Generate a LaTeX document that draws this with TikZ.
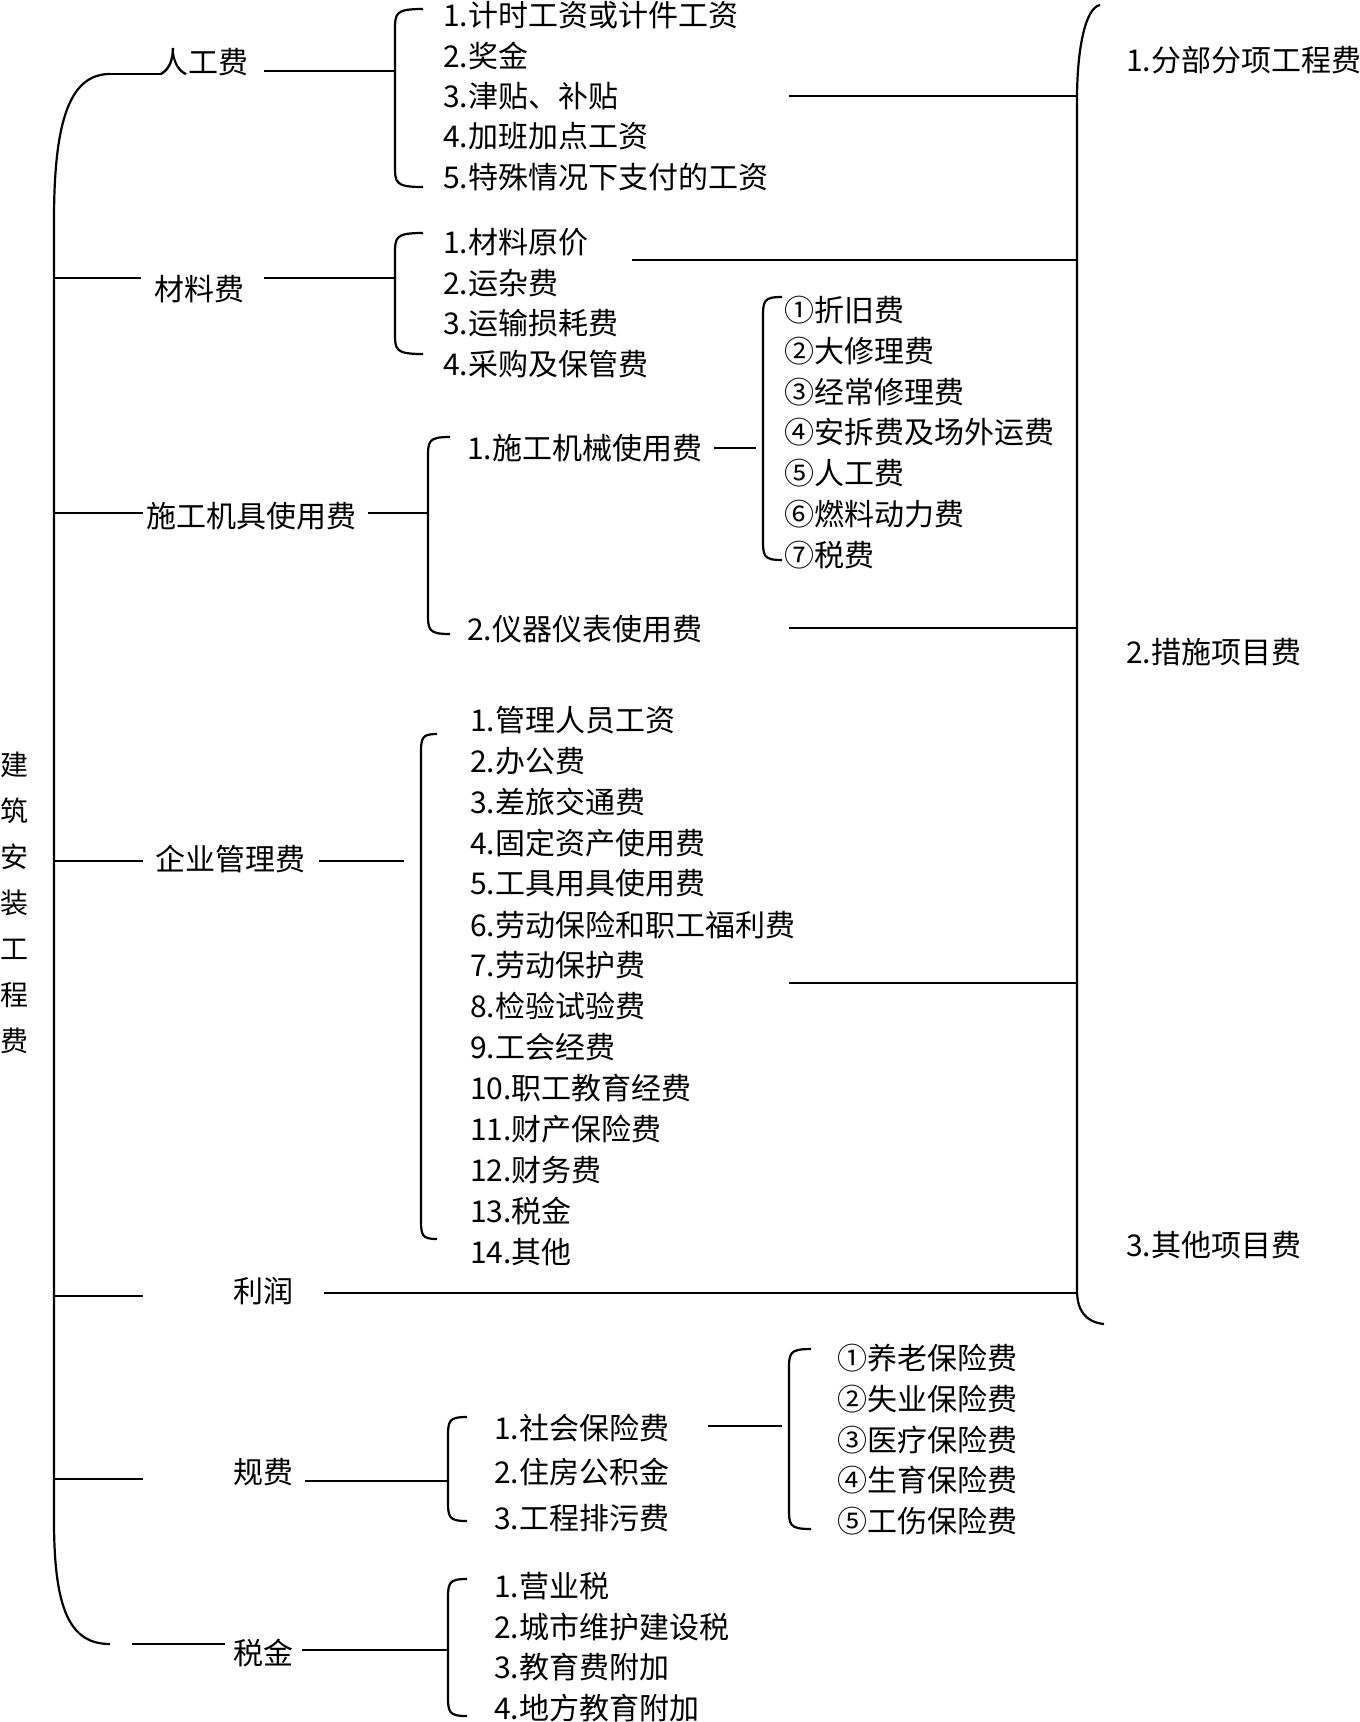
\documentclass[tikz,border=0pt]{standalone}
\usepackage{fontspec}
\newfontfamily\cjk{Noto Sans CJK SC}
\usetikzlibrary{positioning}

\begin{document}
\begin{tikzpicture}[x=1pt,y=-1pt]
	\tikzset{
		item/.style={anchor=west, inner sep=0pt, font=\cjk\fontsize{30}{36}\selectfont},
		cat/.style={inner sep=0pt, font=\cjk\fontsize{30}{36}\selectfont},
		link/.style={line width=2.6pt},
		brak/.style={line width=2.2pt}
	}
	\useasboundingbox (0,0) rectangle (1360,1722);

	% root and first level
	\node[inner sep=0pt, align=center, font=\cjk\fontsize{28}{46}\selectfont] (root) at (15,903) {建\\筑\\安\\装\\工\\程\\费};
	\node[cat] (lab) at (203,62) {人工费};
	\node[cat] (mat) at (199,289) {材料费};
	\node[cat] (mach) at (251,516) {施工机具使用费};
	\node[cat] (mgmt) at (230,859) {企业管理费};
	\node[cat] (profit) at (263,1291) {利润};
	\node[cat] (reg) at (263,1472) {规费};
	\node[cat] (tax) at (263,1653) {税金};

	% second level
	\foreach \t [count=\i] in {1.计时工资或计件工资, 2.奖金, 3.津贴、补贴, 4.加班加点工资, 5.特殊情况下支付的工资}
		\node[item] (lab\i) at (443,{15+40.5*(\i-1)}) {\t};
	\foreach \t [count=\i] in {1.材料原价, 2.运杂费, 3.运输损耗费, 4.采购及保管费}
		\node[item] (mat\i) at (443,{242+40.7*(\i-1)}) {\t};
	\node[item] (mach1) at (467,448) {1.施工机械使用费};
	\node[item] (mach2) at (467,629) {2.仪器仪表使用费};
	\foreach \t [count=\i] in {①折旧费, ②大修理费, ③经常修理费, ④安拆费及场外运费, ⑤人工费, ⑥燃料动力费, ⑦税费}
		\node[item] (dep\i) at (784,{310+40.8*(\i-1)}) {\t};
	\foreach \t [count=\i] in {1.管理人员工资, 2.办公费, 3.差旅交通费, 4.固定资产使用费, 5.工具用具使用费, 6.劳动保险和职工福利费, 7.劳动保护费, 8.检验试验费, 9.工会经费, 10.职工教育经费, 11.财产保险费, 12.财务费, 13.税金, 14.其他}
		\node[item] (mgmt\i) at (470,{720+40.9*(\i-1)}) {\t};
	\node[item] (reg1) at (494,1428) {1.社会保险费};
	\node[item] (reg2) at (494,1472) {2.住房公积金};
	\node[item] (reg3) at (494,1518) {3.工程排污费};
	\foreach \t [count=\i] in {①养老保险费, ②失业保险费, ③医疗保险费, ④生育保险费, ⑤工伤保险费}
		\node[item] (ins\i) at (837,{1358+40.8*(\i-1)}) {\t};
	\foreach \t [count=\i] in {1.营业税, 2.城市维护建设税, 3.教育费附加, 4.地方教育附加}
		\node[item] (tax\i) at (494,{1586+40.7*(\i-1)}) {\t};

	% right column
	\node[item] (sub1) at (1126,60) {1.分部分项工程费};
	\node[item] (sub2) at (1126,652) {2.措施项目费};
	\node[item] (sub3) at (1126,1245) {3.其他项目费};

	% brackets
	\draw[brak] (110,74) .. controls (70,74) and (54,120) .. (54,220) -- (54,1520) .. controls (54,1610) and (70,1644) .. (110,1644);
	\draw[brak] (1100,5) .. controls (1085,8) and (1077,50) .. (1077,100) -- (1077,1290) .. controls (1077,1310) and (1085,1322) .. (1104,1324);
	\foreach \bx/\bt/\bb/\bc in {395/9/187/423, 395/233/354/423, 428/437/634/450, 763/297/560/782, 421/734/1239/437, 448/1417/1521/467, 789/1349/1529/811, 448/1579/1716/467}
		\draw[brak] (\bc,\bt) .. controls (\bx,\bt) and (\bx,\bt+4) .. (\bx,\bt+22) -- (\bx,\bb-22) .. controls (\bx,\bb-4) and (\bx,\bb) .. (\bc,\bb);

	% links
	\foreach \ax/\bx/\yy [count=\i] in {110/161/74, 54/141/278, 54/143/513, 54/143/861, 54/143/1296, 54/143/1479, 132/225/1644,
		264/395/71, 264/395/278, 368/428/513, 319/404/861, 324/1077/1293, 305/448/1481, 302/448/1650,
		714/756/448, 708/782/1426, 789/1077/96, 632/1077/260, 789/1077/628, 789/1077/983} {
		\coordinate (la\i) at (\ax,\yy);
		\coordinate (lb\i) at (\bx,\yy);
		\draw[link] (la\i) -- (lb\i);
	}
\end{tikzpicture}
\end{document}
